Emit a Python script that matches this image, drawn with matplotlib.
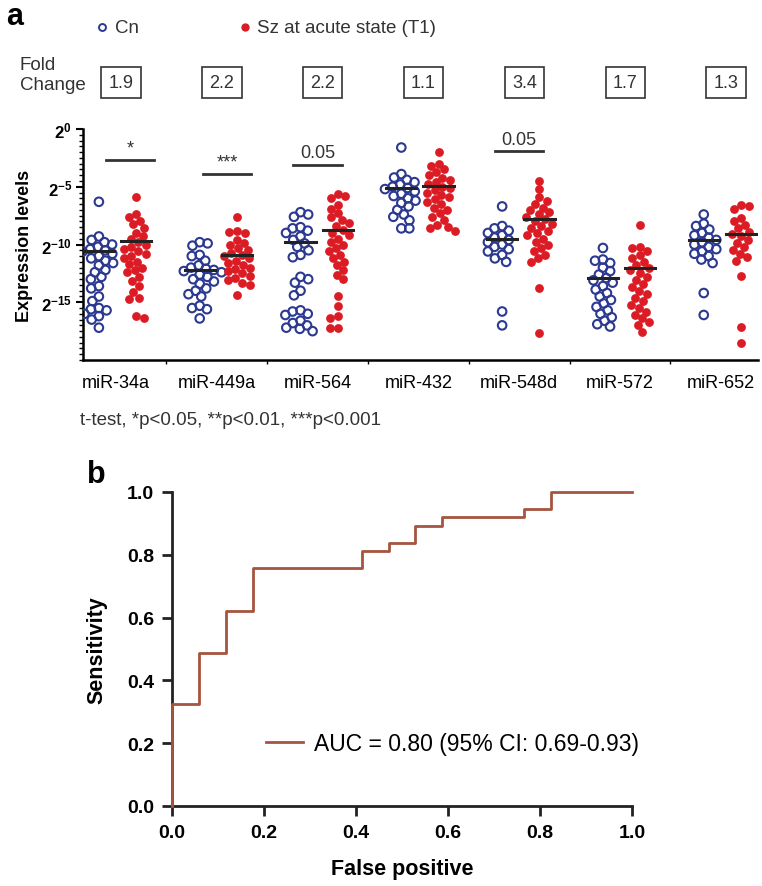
import numpy as np
import matplotlib
matplotlib.use('Agg')
import matplotlib.pyplot as plt
from matplotlib.ticker import MultipleLocator
from matplotlib.transforms import blended_transform_factory

plt.rcParams['font.family'] = ['Liberation Sans', 'DejaVu Sans']
plt.rcParams['mathtext.fontset'] = 'custom'
plt.rcParams['mathtext.rm'] = 'Liberation Sans'
plt.rcParams['mathtext.bf'] = 'Liberation Sans:bold'

blue = '#2b3990'
red = '#dc1c24'
brown = '#a5553f'

mirnas = ['miR-34a', 'miR-449a', 'miR-564', 'miR-432', 'miR-548d', 'miR-572', 'miR-652']
fold_change = ['1.9', '2.2', '2.2', '1.1', '3.4', '1.7', '1.3']

# expression levels, log2 scale (Cn = controls)
cn_34a = [-6.3, -9.3, -9.6, -9.8, -10.0, -10.2, -10.4, -10.5, -10.6, -10.8, -11.0, -11.2, -11.4, -11.6,
          -11.8, -12.2, -12.4, -12.8, -13.0, -13.6, -13.8, -14.5, -14.9, -15.5, -15.6, -15.7, -16.0,
          -16.2, -16.5, -17.2]
cn_449a = [-9.8, -9.9, -10.1, -10.9, -11.0, -11.4, -11.8, -12.0, -12.1, -12.2, -12.3, -12.4, -12.6,
           -12.8, -13.0, -13.2, -13.4, -13.8, -14.0, -14.3, -14.5, -15.3, -15.5, -15.6, -16.4]
cn_564 = [-7.2, -7.4, -7.6, -8.5, -8.6, -8.8, -9.0, -9.3, -9.6, -9.9, -10.2, -10.5, -10.9, -11.1,
          -12.8, -13.0, -13.3, -14.0, -14.4, -15.7, -15.8, -16.0, -16.1, -16.6, -16.8, -17.0, -17.2,
          -17.3, -17.5]
cn_432 = [-1.6, -3.9, -4.2, -4.4, -4.6, -4.8, -5.0, -5.1, -5.2, -5.4, -5.6, -5.8, -6.0, -6.2, -6.4,
          -6.7, -7.0, -7.4, -7.6, -7.9, -8.6, -8.6]
cn_548d = [-6.7, -8.4, -8.6, -8.8, -9.0, -9.2, -9.4, -9.6, -9.8, -10.0, -10.2, -10.4, -10.6, -10.9,
           -11.2, -11.5, -15.8, -17.0]
cn_572 = [-10.3, -11.3, -11.4, -11.6, -12.0, -12.3, -12.6, -12.9, -13.1, -13.3, -13.6, -13.9, -14.2,
          -14.5, -14.8, -15.1, -15.4, -15.7, -16.0, -16.3, -16.6, -16.9, -17.1]
cn_652 = [-7.4, -8.2, -8.4, -8.7, -9.0, -9.2, -9.4, -9.6, -9.8, -10.0, -10.2, -10.4, -10.6, -10.8,
          -11.0, -11.3, -11.6, -14.2, -16.1]

# Sz at acute state (T1)
sz_34a = [-5.9, -7.4, -7.6, -8.0, -8.2, -8.6, -9.0, -9.3, -9.5, -9.8, -10.0, -10.2, -10.4, -10.6,
          -10.8, -11.0, -11.2, -11.5, -11.7, -12.0, -12.2, -12.4, -12.8, -13.2, -13.6, -14.1, -14.6,
          -14.7, -16.2, -16.4]
sz_449a = [-7.6, -8.8, -8.9, -9.0, -9.6, -9.9, -10.0, -10.3, -10.5, -10.7, -10.9, -11.0, -11.2,
           -11.4, -11.6, -11.8, -12.0, -12.1, -12.3, -12.5, -12.7, -12.9, -13.1, -13.3, -13.5, -14.4]
sz_564 = [-5.6, -5.8, -6.0, -6.6, -6.9, -7.3, -7.6, -7.9, -8.1, -8.4, -8.7, -9.0, -9.2, -9.5, -9.8,
          -10.0, -10.3, -10.6, -10.9, -11.2, -11.5, -11.8, -12.2, -12.6, -13.0, -14.5, -15.3, -16.2,
          -16.4, -17.2, -17.2]
sz_432 = [-2.0, -3.0, -3.2, -3.5, -3.7, -4.0, -4.2, -4.4, -4.6, -4.8, -5.0, -5.1, -5.3, -5.5, -5.7,
          -5.9, -6.1, -6.3, -6.5, -6.8, -7.0, -7.3, -7.6, -7.9, -8.3, -8.5, -8.6, -8.8]
sz_548d = [-4.5, -5.2, -5.9, -6.2, -6.5, -6.8, -7.0, -7.2, -7.4, -7.6, -7.8, -8.0, -8.2, -8.4, -8.6,
           -8.8, -9.0, -9.2, -9.5, -9.8, -10.0, -10.3, -10.6, -10.9, -11.2, -11.5, -13.8, -17.7]
sz_572 = [-8.3, -10.2, -10.3, -10.6, -10.9, -11.2, -11.5, -11.8, -12.0, -12.2, -12.5, -12.8, -13.1,
          -13.4, -13.7, -14.0, -14.3, -14.6, -14.9, -15.2, -15.5, -15.8, -16.1, -16.4, -16.7, -17.0,
          -17.6]
sz_652 = [-6.6, -6.7, -6.9, -7.7, -8.0, -8.3, -8.6, -8.9, -9.1, -9.3, -9.6, -9.9, -10.2, -10.5,
          -10.8, -11.1, -11.4, -12.7, -17.1, -18.5]

cn_line = [-10.6, -12.2, -9.8, -5.1, -9.5, -12.9, -9.6]
sz_line = [-9.7, -10.9, -8.7, -4.9, -7.8, -12.0, -9.1]

sig_idx = [0, 1, 2, 4]
sig_text = ['*', '***', '0.05', '0.05']
sig_level = [-2.7, -3.9, -3.1, -1.9]

# ROC steps
fpr = [0, 0, 0.059, 0.118, 0.176, 0.412, 0.471, 0.529, 0.588, 0.765, 0.824, 1.0]
tpr = [0, 0.324, 0.486, 0.622, 0.757, 0.811, 0.838, 0.892, 0.919, 0.946, 1.0, 1.0]

cn_all = [cn_34a, cn_449a, cn_564, cn_432, cn_548d, cn_572, cn_652]
sz_all = [sz_34a, sz_449a, sz_564, sz_432, sz_548d, sz_572, sz_652]

PX_X = 100.8   # pixels per category
PX_Y = 11.55   # pixels per log2 unit


def swarm(vals, d=8.0):
    # simple deterministic beeswarm, works in pixel space
    ys = np.array(vals) * PX_Y
    xs = np.zeros(len(ys))
    placed = []
    for i, y in enumerate(ys):
        near = [(px, py) for px, py in placed if abs(py - y) < d]
        cands = [0.0]
        for px, py in near:
            w = np.sqrt(d**2 - (py - y)**2)
            cands += [px - w, px + w]
        cands.sort(key=lambda c: (round(abs(c), 3), -c if i % 2 else c))
        for c in cands:
            if all((c - px)**2 + (y - py)**2 >= d**2 - 1e-6 for px, py in near):
                xs[i] = c
                break
        placed.append((xs[i], y))
    return xs / PX_X


fig = plt.figure(figsize=(7.62, 8.87), dpi=100)

# ---------------- panel a
ax1 = fig.add_axes([0.109, 0.593, 0.886, 0.2604])
off_cn, off_sz = -0.17, 0.2
for i in range(7):
    xc = i + off_cn + swarm(cn_all[i])
    ax1.scatter(xc, cn_all[i], s=38, facecolors='none', edgecolors=blue, linewidths=1.5, zorder=3)
    xs = i + off_sz + swarm(sz_all[i])
    ax1.scatter(xs, sz_all[i], s=40, color=red, linewidths=0, zorder=3)
    ax1.plot([i + off_cn - 0.15, i + off_cn + 0.15], [cn_line[i]] * 2, color='#222222', lw=2.2, zorder=4)
    ax1.plot([i + off_sz - 0.15, i + off_sz + 0.15], [sz_line[i]] * 2, color='#222222', lw=2.2, zorder=4)

sig_shift = [0.14, 0.1, 0.0, 0.0]
for k, i in enumerate(sig_idx):
    c = i + sig_shift[k]
    ax1.plot([c - 0.24, c + 0.24], [sig_level[k]] * 2, color='#333333', lw=2)
    ax1.text(c, sig_level[k] + 0.3, sig_text[k], ha='center', va='bottom', fontsize=13, color='#333333')

ax1.set_xlim(-0.327, 6.37)
ax1.set_ylim(-20, 0)
ax1.set_yticks([0, -5, -10, -15])
ax1.set_yticklabels([r'$\mathbf{2^{0}}$', r'$\mathbf{2^{-5}}$', r'$\mathbf{2^{-10}}$', r'$\mathbf{2^{-15}}$'],
                    fontsize=12)
ax1.yaxis.set_minor_locator(MultipleLocator(0.5))
ax1.tick_params(axis='y', which='major', length=5, width=1.5, pad=3)
ax1.tick_params(axis='y', which='minor', length=3, width=1)
ax1.set_xticks(range(7))
ax1.set_xticklabels(mirnas, fontsize=13)
ax1.set_xticks(np.arange(0.5, 6, 1), minor=True)
ax1.tick_params(axis='x', which='major', length=0, pad=10)
ax1.tick_params(axis='x', which='minor', length=3, width=1)
ax1.spines['top'].set_visible(False)
ax1.spines['right'].set_visible(False)
ax1.spines['left'].set_linewidth(1.8)
ax1.spines['bottom'].set_linewidth(1.8)
ax1.set_ylabel('Expression levels', fontsize=13, fontweight='bold', labelpad=6)

# fold change boxes
trans = blended_transform_factory(ax1.transData, fig.transFigure)
for i, fc in enumerate(fold_change):
    ax1.text(i + 0.05, 0.906, fc, transform=trans, ha='center', va='center', fontsize=13,
             color='#333333',
             bbox=dict(boxstyle='square,pad=0.4', fc='white', ec='#333333', lw=1.2))
fig.text(0.026, 0.915, 'Fold\nChange', ha='left', va='center', fontsize=13.5, color='#333333',
         linespacing=1.2)

# legend at top
fig.add_artist(plt.Line2D([0.134], [0.968], marker='o', ms=5, mfc='none', mec=blue, mew=1.4,
                          transform=fig.transFigure))
fig.text(0.151, 0.968, 'Cn', ha='left', va='center', fontsize=13.5, color='#333333')
fig.add_artist(plt.Line2D([0.3215], [0.968], marker='o', ms=5, mfc=red, mec=red,
                          transform=fig.transFigure))
fig.text(0.337, 0.968, 'Sz at acute state (T1)', ha='left', va='center', fontsize=13.5, color='#333333')

fig.text(0.105, 0.526, 't-test, *p<0.05, **p<0.01, ***p<0.001', ha='left', va='center',
         fontsize=13.5, color='#333333')

fig.text(0.008, 0.998, 'a', fontsize=22, fontweight='bold', ha='left', va='top')
fig.text(0.127, 0.4645, 'b', fontsize=22, fontweight='bold', ha='center', va='center')

# ---------------- panel b
ax2 = fig.add_axes([0.2257, 0.0902, 0.6037, 0.354])
ax2.plot(fpr, tpr, drawstyle='steps-post', color=brown, lw=2,
         label='AUC = 0.80 (95% CI: 0.69-0.93)', clip_on=False, zorder=5)
ax2.set_xlim(0, 1)
ax2.set_ylim(0, 1)
ax2.set_xticks(np.arange(0, 1.01, 0.2))
ax2.set_yticks(np.arange(0, 1.01, 0.2))
ax2.xaxis.set_major_formatter(matplotlib.ticker.FormatStrFormatter('%.1f'))
ax2.yaxis.set_major_formatter(matplotlib.ticker.FormatStrFormatter('%.1f'))
for lab in ax2.get_xticklabels() + ax2.get_yticklabels():
    lab.set_fontweight('bold')
    lab.set_fontsize(14)
ax2.tick_params(length=7, width=2, pad=6, color='#222222')
for sp in ['top', 'right']:
    ax2.spines[sp].set_visible(False)
for sp in ['left', 'bottom']:
    ax2.spines[sp].set_linewidth(2)
    ax2.spines[sp].set_color('#222222')
ax2.set_xlabel('False positive', fontsize=15.5, fontweight='bold', labelpad=12)
ax2.set_ylabel('Sensitivity', fontsize=15.5, fontweight='bold', labelpad=14)
ax2.legend(loc='center left', bbox_to_anchor=(0.205, 0.2), frameon=False, fontsize=16.5,
           handlelength=1.6, handletextpad=0.5, borderpad=0, borderaxespad=0)

fig.savefig('out.png', dpi=100)
